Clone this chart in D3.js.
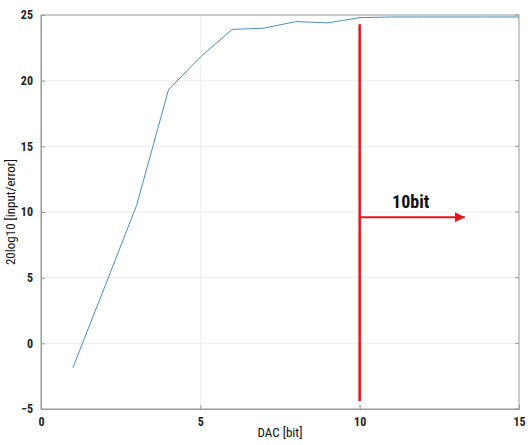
<!DOCTYPE html>
<html><head><meta charset="utf-8">
<script src="https://cdn.jsdelivr.net/npm/d3@7"></script>
<style>body{margin:0;background:#fff}</style>
</head><body>
<svg id="c" width="528" height="445"></svg>
<script>
const bits = [1,2,3,4,5,6,7,8,9,10,11,12,13,14,15];
const snr = [-1.85,4.3,10.5,19.3,21.8,23.9,24.0,24.5,24.4,24.8,24.85,24.85,24.85,24.85,24.85];
const xTicks = [0,5,10,15];
const yTicks = [-5,0,5,10,15,20,25];
const markerBit = [10];
const markerLabel = ["10bit"];

const svg = d3.select("#c");
const m = {l:41, r:519, t:15, b:409};
const x = d3.scaleLinear().domain([0,15]).range([m.l, m.r]);
const y = d3.scaleLinear().domain([-5,25]).range([m.b, m.t]);
const font = "'Liberation Sans Narrow','Arial Narrow','Roboto Condensed',sans-serif";

// grid
svg.append("g").selectAll("line").data(xTicks.slice(1,-1)).join("line")
  .attr("x1", d=>x(d)).attr("x2", d=>x(d)).attr("y1", m.t).attr("y2", m.b)
  .attr("stroke", "#ececec").attr("stroke-width", 1);
svg.append("g").selectAll("line").data(yTicks.slice(1,-1)).join("line")
  .attr("y1", d=>y(d)).attr("y2", d=>y(d)).attr("x1", m.l).attr("x2", m.r)
  .attr("stroke", "#ececec").attr("stroke-width", 1);

// axes
const xa = svg.append("g").attr("transform", `translate(0,${m.b})`)
  .call(d3.axisBottom(x).tickValues(xTicks).tickSize(-4).tickPadding(8));
const ya = svg.append("g").attr("transform", `translate(${m.l},0)`)
  .call(d3.axisLeft(y).tickValues(yTicks).tickSize(-4).tickPadding(8));
[xa, ya].forEach(a => {
  a.select(".domain").attr("stroke", "#999");
  a.selectAll(".tick line").attr("stroke", "#999");
  a.selectAll("text").attr("font-family", font).attr("font-size", 12)
    .attr("font-weight", "bold").attr("fill", "#222");
});
// right/top ticks
svg.append("g").selectAll("line").data(yTicks).join("line")
  .attr("x1", m.r).attr("x2", m.r-4).attr("y1", d=>y(d)).attr("y2", d=>y(d)).attr("stroke", "#999");
svg.append("rect").attr("x", m.l).attr("y", m.t).attr("width", m.r-m.l).attr("height", m.b-m.t)
  .attr("fill", "none").attr("stroke", "#999").attr("stroke-width", 1);

// line
svg.append("path").datum(bits.map((b,i)=>[b,snr[i]]))
  .attr("d", d3.line().x(d=>x(d[0])).y(d=>y(d[1])))
  .attr("fill", "none").attr("stroke", "#4a8fb9").attr("stroke-width", 1);

// marker
const red = "#e8141b";
svg.append("defs").append("marker").attr("id","ah").attr("viewBox","0 0 10 10")
  .attr("refX", 10).attr("refY", 5).attr("markerWidth", 5).attr("markerHeight", 5)
  .attr("markerUnits","strokeWidth").attr("orient","auto")
  .append("path").attr("d","M0,0L10,5L0,10Z").attr("fill", red);
svg.append("line").attr("x1", x(markerBit[0])).attr("x2", x(markerBit[0]))
  .attr("y1", y(24.3)).attr("y2", y(-4.4)).attr("stroke", red).attr("stroke-width", 2.5);
svg.append("line").attr("x1", x(markerBit[0])).attr("x2", x(13.3))
  .attr("y1", y(9.6)).attr("y2", y(9.6)).attr("stroke", red).attr("stroke-width", 2)
  .attr("marker-end", "url(#ah)");
svg.append("text").attr("x", x(11.6)).attr("y", y(10.3)).attr("text-anchor","middle")
  .attr("font-family", font).attr("font-size", 18).attr("font-weight","bold").attr("fill","#111")
  .text(markerLabel[0]);

// axis titles
svg.append("text").attr("x", (m.l+m.r)/2).attr("y", 437).attr("text-anchor","middle")
  .attr("font-family", font).attr("font-size", 13).attr("fill","#111").text("DAC [bit]");
svg.append("text").attr("transform", `translate(15,${(m.t+m.b)/2}) rotate(-90)`)
  .attr("text-anchor","middle").attr("font-family", font).attr("font-size", 13).attr("fill","#111")
  .text("20log10 [input/error]");
</script>
</body></html>
